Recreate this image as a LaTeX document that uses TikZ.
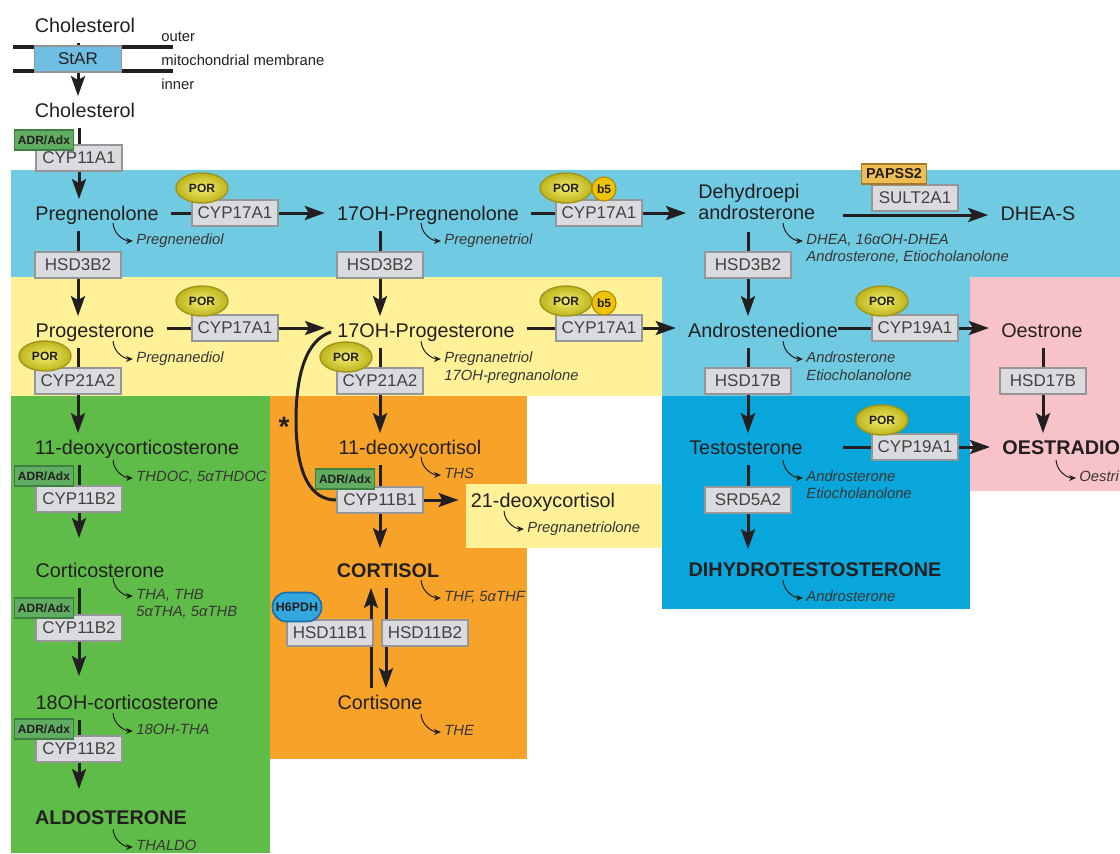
\documentclass[tikz,border=0pt]{standalone}
\usepackage{fontspec}
\setmainfont{Liberation Sans}
\usetikzlibrary{arrows.meta,shapes.geometric}

\definecolor{bgblue}{RGB}{112,203,226}
\definecolor{bgyellow}{RGB}{254,241,152}
\definecolor{bggreen}{RGB}{96,188,72}
\definecolor{bgorange}{RGB}{247,163,42}
\definecolor{bgpink}{RGB}{247,194,200}
\definecolor{bgdeep}{RGB}{8,166,218}
\definecolor{ink}{RGB}{35,31,32}
\definecolor{enzfill}{RGB}{218,219,222}
\definecolor{enzline}{RGB}{150,150,152}
\definecolor{porin}{RGB}{242,238,110}
\definecolor{porout}{RGB}{190,180,28}
\definecolor{porline}{RGB}{160,150,30}
\definecolor{gold5}{RGB}{238,196,10}
\definecolor{gold5line}{RGB}{180,140,0}
\definecolor{adrfill}{RGB}{96,172,96}
\definecolor{adrline}{RGB}{62,128,66}
\definecolor{h6fill}{RGB}{50,168,222}
\definecolor{h6line}{RGB}{24,110,170}
\definecolor{papfill}{RGB}{238,190,84}
\definecolor{papline}{RGB}{168,122,40}
\definecolor{starfill}{RGB}{112,190,228}

\begin{document}
\begin{tikzpicture}[x=0.5pt, y=-0.5pt]
	\tikzstyle{metbase}=[text=ink, inner xsep=6pt, inner ysep=3pt, font=\fontsize{9.9}{10.5}\selectfont]
	\tikzstyle{met}=[metbase, text height=7.4pt, text depth=2.1pt]
	\tikzstyle{hormone}=[met, font=\fontsize{9.9}{10.5}\selectfont\bfseries]
	\tikzstyle{enz}=[draw=enzline, fill=enzfill, line width=0.9pt, minimum width=43pt, minimum height=13pt, inner sep=1pt, text=ink!85, font=\fontsize{8.5}{9}\selectfont]
	\tikzstyle{por}=[ellipse, draw=porline, line width=0.7pt, inner color=porin, outer color=porout, minimum width=26pt, minimum height=15pt, inner sep=0pt, text=ink, font=\fontsize{6}{6}\selectfont\bfseries]
	\tikzstyle{cytb}=[circle, draw=gold5line, line width=0.6pt, fill=gold5, minimum size=12pt, inner sep=0pt, text=ink, font=\fontsize{6}{6}\selectfont\bfseries]
	\tikzstyle{adr}=[draw=adrline, fill=adrfill, line width=0.8pt, minimum width=29.5pt, minimum height=10pt, inner sep=0.5pt, text=ink, font=\fontsize{6}{6}\selectfont\bfseries]
	\tikzstyle{pap}=[draw=papline, fill=papfill, line width=0.8pt, minimum width=32.5pt, minimum height=10pt, inner sep=0.5pt, text=ink, font=\fontsize{7.2}{7.2}\selectfont\bfseries]
	\tikzstyle{h6}=[draw=h6line, fill=h6fill, line width=0.8pt, rounded corners=7pt, minimum width=24.5pt, minimum height=14.5pt, inner sep=0pt, text=ink, font=\fontsize{6.2}{6.2}\selectfont\bfseries]
	\tikzstyle{sidep}=[text=ink!90, inner sep=0pt, anchor=west, text height=5.5pt, text depth=1.6pt, font=\fontsize{7.4}{8}\selectfont\itshape]
	\tikzstyle{memb}=[text=ink, inner sep=0pt, anchor=west, font=\fontsize{7.4}{8}\selectfont]
	\tikzstyle{link}=[draw=ink, line width=1.5pt]
	\tikzstyle{arr}=[link, -{Stealth[length=10pt,width=7pt,inset=2pt]}]
	\tikzstyle{excr}=[draw=ink, line width=0.5pt, shorten >=1.5pt, -{Stealth[length=3.5pt,width=3pt]}]

	\useasboundingbox (0,0) rectangle (1120,853);
	\clip (0,0) rectangle (1120,853);

	% coloured zones
	\fill[bgblue] (11,170) rectangle (1120,396);
	\fill[bgyellow] (11,277) rectangle (662,396);
	\fill[bgpink] (970,277) rectangle (1120,491);
	\fill[bggreen] (11,396) rectangle (270,853);
	\fill[bgorange] (270,396) rectangle (527,759);
	\fill[bgdeep] (662,396) rectangle (970,609);
	\fill[bgyellow] (466,484) rectangle (662,548);

	% membrane
	\draw[line width=2pt, ink] (13,47) -- (173,47) (13,71) -- (173,71);
	\node[draw=enzline, fill=starfill, line width=0.8pt, minimum width=43.5pt, minimum height=13pt, inner sep=0pt, text=ink, font=\fontsize{8.5}{9}\selectfont] (stAR) at (78,59) {StAR};
	\node[memb] (outer) at (161,37) {outer};
	\node[memb] (mito) at (161,60) {mitochondrial membrane};
	\node[memb] (inner) at (161,84) {inner};

	% steroids
	\node[met] (chol1) at (85,27) {Cholesterol};
	\node[met] (chol2) at (85,112) {Cholesterol};
	\node[met] (preg) at (97,215) {Pregnenolone};
	\node[met] (ohpreg) at (428,215) {17OH-Pregnenolone};
	\node[metbase, align=left, anchor=west] (dhea) at (686,202) {Dehydroepi\\androsterone};
	\node[met] (dheas) at (1038,215) {DHEA-S};
	\node[met] (prog) at (95,332) {Progesterone};
	\node[met] (ohprog) at (426,332) {17OH-Progesterone};
	\node[met] (andro) at (763,332) {Androstenedione};
	\node[met] (oestrone) at (1042,332) {Oestrone};
	\node[met] (doc) at (137,449) {11-deoxycorticosterone};
	\node[met] (dcortisol) at (410,449) {11-deoxycortisol};
	\node[met] (testo) at (746,449) {Testosterone};
	\node[hormone, anchor=west] (oestradiol) at (990,449) {OESTRADIO};
	\node[met] (d21) at (543,502) {21-deoxycortisol};
	\node[met] (cortico) at (100,572) {Corticosterone};
	\node[hormone] (cortisol) at (388,572) {CORTISOL};
	\node[hormone] (dht) at (815,571) {DIHYDROTESTOSTERONE};
	\node[met] (ohcortico) at (127,704) {18OH-corticosterone};
	\node[met] (cortisone) at (380,704) {Cortisone};
	\node[hormone] (aldo) at (111,819) {ALDOSTERONE};
	\node[text=ink, inner sep=0pt, font=\fontsize{14}{14}\selectfont\bfseries] (ast) at (284,427) {*};

	% urinary metabolites
	\node[sidep] (xpreg) at (136,241) {Pregnenediol};
	\node[sidep] (xohpreg) at (444,241) {Pregnenetriol};
	\node[sidep] (xdhea) at (806,241) {DHEA, 16αOH-DHEA};
	\node[sidep] (xdheab) at (806,258) {Androsterone, Etiocholanolone};
	\node[sidep] (xprog) at (136,359) {Pregnanediol};
	\node[sidep] (xohprog) at (444,359) {Pregnanetriol};
	\node[sidep] (xohprogb) at (444,377) {17OH-pregnanolone};
	\node[sidep] (xandro) at (806,359) {Androsterone};
	\node[sidep] (xandrob) at (806,377) {Etiocholanolone};
	\node[sidep] (xdoc) at (136,478) {THDOC, 5αTHDOC};
	\node[sidep] (xdcort) at (444,475) {THS};
	\node[sidep] (xtesto) at (806,478) {Androsterone};
	\node[sidep] (xtestob) at (806,495) {Etiocholanolone};
	\node[sidep] (xoest) at (1079,478) {Oestri};
	\node[sidep] (xd21) at (527,529) {Pregnanetriolone};
	\node[sidep] (xcortico) at (136,596) {THA, THB};
	\node[sidep] (xcorticob) at (136,613) {5αTHA, 5αTHB};
	\node[sidep] (xcortisol) at (444,598) {THF, 5αTHF};
	\node[sidep] (xdht) at (806,598) {Androsterone};
	\node[sidep] (xohcort) at (136,731) {18OH-THA};
	\node[sidep] (xcortisone) at (444,732) {THE};
	\node[sidep] (xaldo) at (136,847) {THALDO};

	\foreach \m in {xpreg,xohpreg,xdhea,xprog,xohprog,xandro,xdoc,xdcort,xtesto,xoest,xd21,xcortico,xcortisol,xdht,xohcort,xcortisone,xaldo}
		\draw[excr] ([shift={(-23,-18)}]\m.west) .. controls +(1,13) and +(-10,0) .. (\m.west);

	% enzymes
	\node[enz] (cyp11a1) at (79,158) {CYP11A1};
	\node[enz] (cyp17a) at (235,213) {CYP17A1};
	\node[enz] (cyp17b) at (599,213) {CYP17A1};
	\node[enz] (hsd3a) at (78,265) {HSD3B2};
	\node[enz] (hsd3b) at (380,265) {HSD3B2};
	\node[enz] (hsd3c) at (748,265) {HSD3B2};
	\node[enz] (cyp17c) at (235,328) {CYP17A1};
	\node[enz] (cyp17d) at (599,328) {CYP17A1};
	\node[enz] (cyp19a) at (915,328) {CYP19A1};
	\node[enz] (cyp21a) at (78,381) {CYP21A2};
	\node[enz] (cyp21b) at (380,381) {CYP21A2};
	\node[enz] (hsd17a) at (748,381) {HSD17B};
	\node[enz] (hsd17b) at (1043,381) {HSD17B};
	\node[enz] (cyp19b) at (915,447) {CYP19A1};
	\node[enz] (cyp11b2a) at (79,499) {CYP11B2};
	\node[enz] (cyp11b1) at (380,500) {CYP11B1};
	\node[enz] (srd) at (748,500) {SRD5A2};
	\node[enz] (cyp11b2b) at (79,628) {CYP11B2};
	\node[enz] (cyp11b2c) at (79,749) {CYP11B2};
	\coordinate (bend) at (296,420);
	\coordinate (up) at (371,633);
	\coordinate (dn) at (386,633);

	% links
	\draw[link] (stAR.north |- chol1.south) -- (stAR.north);
	\draw[arr] (stAR.south) -- (stAR.south |- chol2.north);
	\draw[link] (cyp11a1.north |- chol2.south) -- (cyp11a1.north);
	\draw[arr] (cyp11a1.south) -- (cyp11a1.south |- preg.north);
	\draw[link] (cyp17a.west -| preg.east) -- (cyp17a.west);
	\draw[arr] (cyp17a.east) -- (cyp17a.east -| ohpreg.west);
	\draw[link] (cyp17b.west -| ohpreg.east) -- (cyp17b.west);
	\draw[arr] (cyp17b.east) -- (cyp17b.east -| dhea.west);
	\draw[arr, shorten <=8pt] (dheas.west -| dhea.east) -- (dheas.west);
	\draw[link] (hsd3a.north |- preg.south) -- (hsd3a.north);
	\draw[arr] (hsd3a.south) -- (hsd3a.south |- prog.north);
	\draw[link] (hsd3b.north |- ohpreg.south) -- (hsd3b.north);
	\draw[arr] (hsd3b.south) -- (hsd3b.south |- ohprog.north);
	\draw[link, shorten <=3pt] (hsd3c.north |- dhea.south) -- (hsd3c.north);
	\draw[arr] (hsd3c.south) -- (hsd3c.south |- andro.north);
	\draw[link] (cyp17c.west -| prog.east) -- (cyp17c.west);
	\draw[arr] (cyp17c.east) -- (cyp17c.east -| ohprog.west);
	\draw[link] (cyp17d.west -| ohprog.east) -- (cyp17d.west);
	\draw[arr] (cyp17d.east) -- (cyp17d.east -| andro.west);
	\draw[link, shorten <=-6pt] (cyp19a.west -| andro.east) -- (cyp19a.west);
	\draw[arr] (cyp19a.east) -- (cyp19a.east -| oestrone.west);
	\draw[link] (cyp21a.north |- prog.south) -- (cyp21a.north);
	\draw[arr] (cyp21a.south) -- (cyp21a.south |- doc.north);
	\draw[link] (cyp21b.north |- ohprog.south) -- (cyp21b.north);
	\draw[arr] (cyp21b.south) -- (cyp21b.south |- dcortisol.north);
	\draw[link] (hsd17a.north |- andro.south) -- (hsd17a.north);
	\draw[arr] (hsd17a.south) -- (hsd17a.south |- testo.north);
	\draw[link] (hsd17b.north |- oestrone.south) -- (hsd17b.north);
	\draw[arr] (hsd17b.south) -- (hsd17b.south |- oestradiol.north);
	\draw[link, shorten <=14pt] (cyp19b.west -| testo.east) -- (cyp19b.west);
	\draw[arr] (cyp19b.east) -- (cyp19b.east -| oestradiol.west);
	\draw[link] (srd.north |- testo.south) -- (srd.north);
	\draw[arr, shorten >=3pt] (srd.south) -- (srd.south |- dht.north);
	\draw[link] (cyp11b1.north |- dcortisol.south) -- (cyp11b1.north);
	\draw[arr, shorten >=4pt] (cyp11b1.south) -- (cyp11b1.south |- cortisol.north);
	\draw[arr] (cyp11b1.east) -- (cyp11b1.east -| d21.west);
	\draw[link] ([xshift=3pt]ohprog.west) .. controls +(-25,8) and +(0,-45) .. (bend) .. controls +(0,55) and +(-25,0) .. (cyp11b1.west);
	\draw[arr] (up |- cortisone.north) -- (up |- cortisol.south);
	\draw[arr] (dn |- cortisol.south) -- (dn |- cortisone.north);
	\draw[link] (cyp11b2a.north |- doc.south) -- (cyp11b2a.north);
	\draw[arr, shorten >=9pt] (cyp11b2a.south) -- (cyp11b2a.south |- cortico.north);
	\draw[link] (cyp11b2b.north |- cortico.south) -- (cyp11b2b.north);
	\draw[arr, shorten >=6pt] (cyp11b2b.south) -- (cyp11b2b.south |- ohcortico.north);
	\draw[link] (cyp11b2c.north |- ohcortico.south) -- (cyp11b2c.north);
	\draw[arr, shorten >=7pt] (cyp11b2c.south) -- (cyp11b2c.south |- aldo.north);

	% boxes drawn over the HSD11B arrows
	\node[enz] (hsd11b1) at (330,633) {HSD11B1};
	\node[enz] (hsd11b2) at (425,633) {HSD11B2};
	\node[enz] (sult) at (915,198) {SULT2A1};

	% cofactors
	\node[adr] (adr1) at (44,140) {ADR/Adx};
	\node[por] (por1) at (202,188) {POR};
	\node[por] (por2) at (566,188) {POR};
	\node[cytb] (b5a) at (604,189) {b5};
	\node[pap] (papss) at (894,174) {PAPSS2};
	\node[por] (por3) at (202,301) {POR};
	\node[por] (por4) at (566,301) {POR};
	\node[cytb] (b5b) at (604,303) {b5};
	\node[por] (por5) at (882,301) {POR};
	\node[por] (por6) at (45,356) {POR};
	\node[por] (por7) at (346,357) {POR};
	\node[adr] (adr2) at (44,476) {ADR/Adx};
	\node[adr] (adr3) at (345,479) {ADR/Adx};
	\node[por] (por8) at (882,420) {POR};
	\node[h6] (h6pdh) at (297,607) {H6PDH};
	\node[adr] (adr4) at (44,608) {ADR/Adx};
	\node[adr] (adr5) at (44,729) {ADR/Adx};
\end{tikzpicture}
\end{document}
